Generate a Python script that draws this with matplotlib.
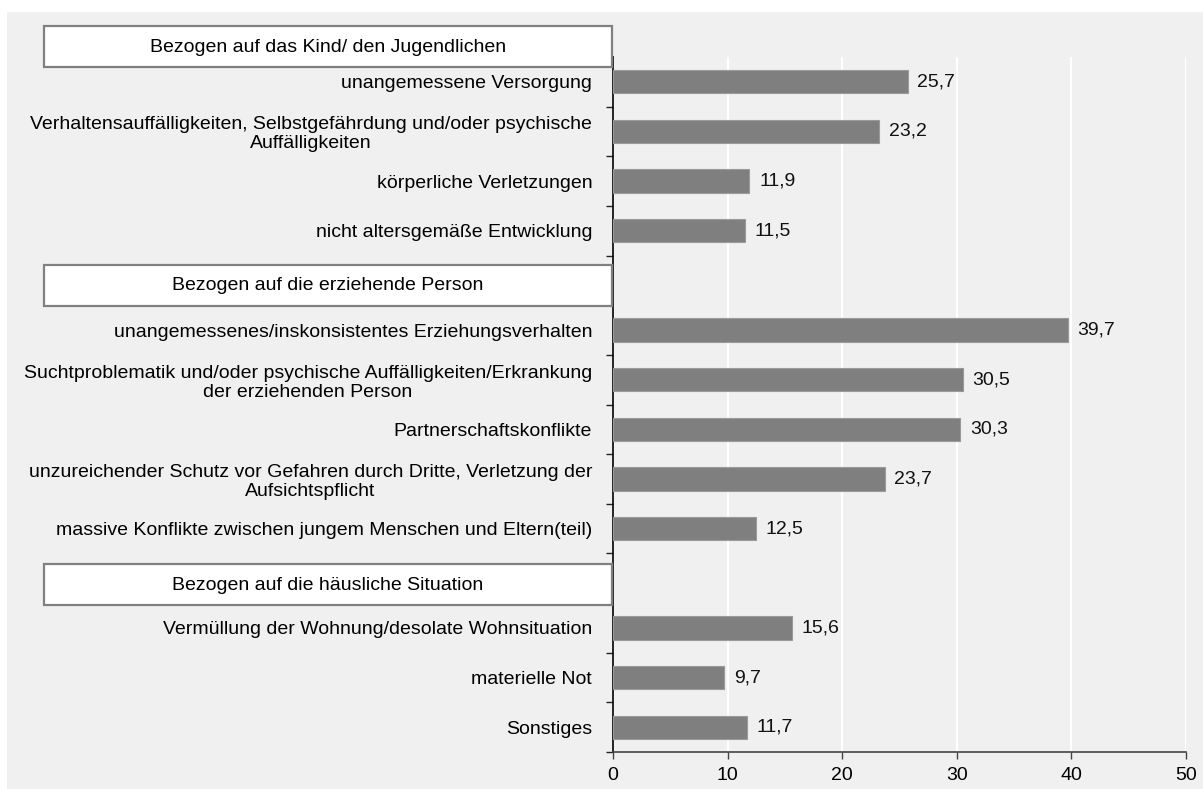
import numpy as np
import matplotlib.pyplot as plt
from matplotlib.patches import Rectangle
from matplotlib.ticker import FixedLocator

plt.rcParams['font.family'] = ['Liberation Sans', 'DejaVu Sans']

# Kategorien nach Bereich
groups = ["Bezogen auf das Kind/ den Jugendlichen",
          "Bezogen auf die erziehende Person",
          "Bezogen auf die häusliche Situation"]

child_items = ["unangemessene Versorgung",
               "Verhaltensauffälligkeiten, Selbstgefährdung und/oder psychische\nAuffälligkeiten",
               "körperliche Verletzungen",
               "nicht altersgemäße Entwicklung"]
child_values = [25.7, 23.2, 11.9, 11.5]

parent_items = ["unangemessenes/inskonsistentes Erziehungsverhalten",
                "Suchtproblematik und/oder psychische Auffälligkeiten/Erkrankung\nder erziehenden Person",
                "Partnerschaftskonflikte",
                "unzureichender Schutz vor Gefahren durch Dritte, Verletzung der\nAufsichtspflicht",
                "massive Konflikte zwischen jungem Menschen und Eltern(teil)"]
parent_values = [39.7, 30.5, 30.3, 23.7, 12.5]

home_items = ["Vermüllung der Wohnung/desolate Wohnsituation",
              "materielle Not",
              "Sonstiges"]
home_values = [15.6, 9.7, 11.7]

xticks = [0, 10, 20, 30, 40, 50]

# Reihenfolge von oben nach unten, Leerzeile für die Überschrift der Gruppen 2 und 3
labels = child_items + [""] + parent_items + [""] + home_items
values = child_values + [np.nan] + parent_values + [np.nan] + home_values
pos = np.arange(len(labels))

FS = 14
W, H = 1203, 789
fig = plt.figure(figsize=(W / 100, H / 100), dpi=100, facecolor='white')
bg = '#f0f0f0'
fig.patches.append(Rectangle((7 / W, 0), 1, 1 - 12 / H, transform=fig.transFigure,
                             facecolor=bg, edgecolor='none', zorder=-10))

ax = fig.add_axes([613 / W, 1 - 752 / H, (1186 - 613) / W, (752 - 57) / H])
ax.set_facecolor(bg)

ax.barh(pos, values, height=0.47, color='#7f7f7f', edgecolor='#9a9a9a', linewidth=0.8, zorder=3)
for p, v in zip(pos, values):
    if not np.isnan(v):
        ax.annotate(f"{v:.1f}".replace('.', ','), (v, p), xytext=(7, 0), textcoords='offset points',
                    va='center', ha='left', fontsize=FS, color='#111111')

ax.set_ylim(len(labels) - 0.5, -0.5)
ax.set_xlim(0, 50)
ax.set_xticks(xticks)
ax.set_xticklabels([str(t) for t in xticks])
ax.set_yticks(pos)
ax.set_yticklabels(labels, fontsize=FS, multialignment='center', linespacing=1.15)
ax.yaxis.set_minor_locator(FixedLocator(np.arange(len(labels) + 1) - 0.5))
ax.tick_params(axis='y', which='major', length=0, pad=15)
ax.tick_params(axis='y', which='minor', length=5, width=1, color='#222222')
ax.tick_params(axis='x', length=5, width=1, color='#444444', labelsize=FS, pad=6)

ax.grid(axis='x', color='white', linewidth=1.5, zorder=1)
ax.set_axisbelow(True)
for s in ['top', 'right']:
    ax.spines[s].set_visible(False)
ax.spines['left'].set_color('black')
ax.spines['left'].set_linewidth(1.2)
ax.spines['bottom'].set_color('#444444')
ax.spines['bottom'].set_linewidth(1.2)

# Überschriften-Kästen
box_tops = [26, 265, 564]
for g, top in zip(groups, box_tops):
    fig.patches.append(Rectangle((44 / W, 1 - (top + 41) / H), (612 - 44) / W, 41 / H,
                                 transform=fig.transFigure, facecolor='white',
                                 edgecolor='#808080', linewidth=1.6, zorder=5))
    fig.text(328 / W, 1 - (top + 21) / H, g, ha='center', va='center', fontsize=FS, zorder=6)

fig.savefig('out.png', dpi=100, facecolor=fig.get_facecolor())
